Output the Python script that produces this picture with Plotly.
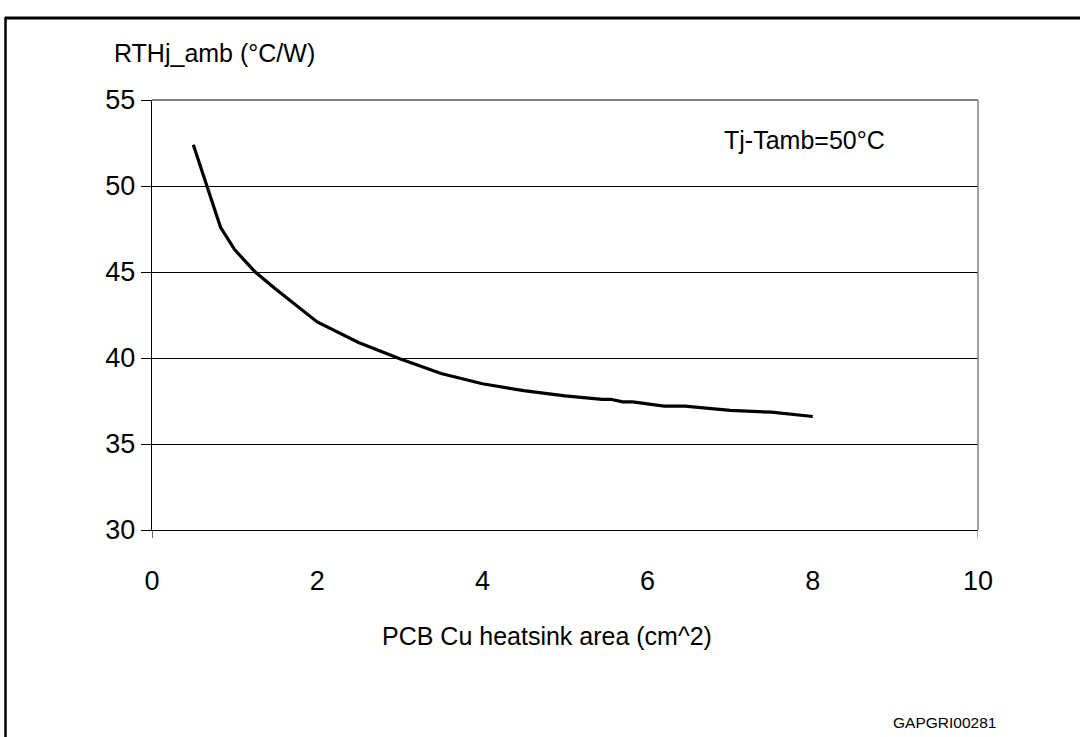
import plotly.graph_objects as go

# Data
area_cm2 = [0.5, 0.83, 1.0, 1.25, 1.5, 2.0, 2.5, 3.0, 3.5, 4.0, 4.5, 5.0,
            5.45, 5.55, 5.7, 5.82, 6.2, 6.45, 7.0, 7.5, 8.0]
rth_j_amb = [52.4, 47.6, 46.3, 45.0, 44.0, 42.1, 40.9, 39.95, 39.1, 38.5, 38.1, 37.8,
             37.6, 37.6, 37.45, 37.45, 37.2, 37.2, 36.95, 36.85, 36.6]
x_ticks = [0, 2, 4, 6, 8, 10]
y_ticks = [30, 35, 40, 45, 50, 55]

W, H = 1080, 737
L, R, T, B = 152, 978, 100, 530  # plot area pixel positions
pw, ph = R - L, B - T

def px(xpix):
    return (xpix - L) / pw

def py(ypix):
    return (B - ypix) / ph

FONT = "Liberation Sans, Arial, sans-serif"

fig = go.Figure()
fig.add_trace(go.Scatter(x=area_cm2, y=rth_j_amb, mode="lines",
                         line=dict(color="black", width=3.2), showlegend=False,
                         hoverinfo="skip"))

fig.update_layout(
    width=W, height=H,
    margin=dict(l=L, r=W - R, t=T, b=H - B, pad=0),
    paper_bgcolor="white", plot_bgcolor="white",
    font=dict(family=FONT, color="black"),
    xaxis=dict(range=[0, 10], tickvals=x_ticks, ticktext=[str(v) for v in x_ticks],
               showgrid=False, zeroline=False, showline=True, linecolor="black",
               linewidth=1.2, ticks="", ticklabelstandoff=26,
               tickfont=dict(size=27, family=FONT, color="black")),
    yaxis=dict(range=[30, 55], tickvals=y_ticks, ticktext=[str(v) for v in y_ticks],
               showgrid=True, gridcolor="black", gridwidth=1, zeroline=False,
               showline=True, linecolor="black", linewidth=1.2,
               ticks="outside", ticklen=10, tickcolor="black", tickwidth=1,
               ticklabelstandoff=0,
               tickfont=dict(size=27, family=FONT, color="black")),
)

shapes = []
# gray top and right border of plot area
shapes.append(dict(type="line", xref="paper", yref="paper", x0=0, x1=1, y0=1, y1=1,
                   line=dict(color="#808080", width=2), layer="above"))
shapes.append(dict(type="line", xref="paper", yref="paper", x0=1, x1=1, y0=0, y1=1,
                   line=dict(color="#808080", width=1.5), layer="above"))
# end ticks on x axis
for xv in (0, 10):
    shapes.append(dict(type="line", xref="x", yref="paper", x0=xv, x1=xv,
                       y0=0, y1=-8 / ph,
                       line=dict(color="black" if xv == 0 else "#808080", width=1.2)))
# outer frame
shapes.append(dict(type="line", xref="paper", yref="paper", x0=px(5), x1=px(1085),
                   y0=py(18), y1=py(18), line=dict(color="black", width=3)))
shapes.append(dict(type="line", xref="paper", yref="paper", x0=px(5.5), x1=px(5.5),
                   y0=py(17), y1=py(745), line=dict(color="black", width=2.5)))
fig.update_layout(shapes=shapes)

ann = []
ann.append(dict(text="RTHj_amb (°C/W)", xref="paper", yref="paper", x=px(112), y=py(53),
                xanchor="left", yanchor="middle", showarrow=False,
                font=dict(size=25, family=FONT, color="black")))
ann.append(dict(text="Tj-Tamb=50°C", xref="paper", yref="paper", x=px(804), y=py(140),
                xanchor="center", yanchor="middle", showarrow=False,
                font=dict(size=25, family=FONT, color="black")))
ann.append(dict(text="PCB Cu heatsink area (cm^2)", xref="paper", yref="paper",
                x=px(547), y=py(636), xanchor="center", yanchor="middle", showarrow=False,
                font=dict(size=25, family=FONT, color="black")))
ann.append(dict(text="GAPGRI00281", xref="paper", yref="paper",
                x=px(944), y=py(722), xanchor="center", yanchor="middle", showarrow=False,
                font=dict(size=15.5, family=FONT, color="black")))
fig.update_layout(annotations=ann)

fig.write_html("out.html",
               config={"displayModeBar": False, "staticPlot": True},
               post_script="document.body.style.margin='0px';document.body.style.overflow='hidden';")
